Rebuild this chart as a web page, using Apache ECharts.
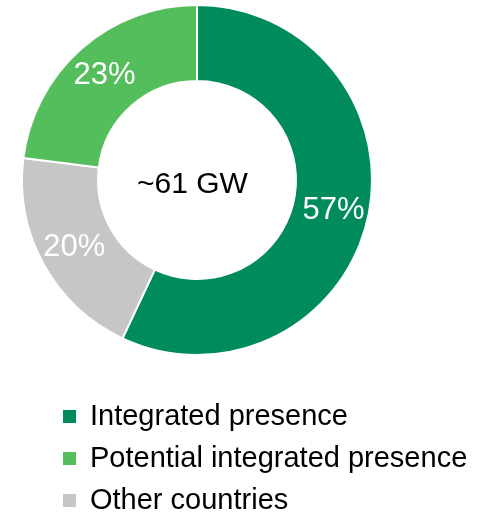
<!DOCTYPE html>
<html style="height: 100%">
<head>
    <meta charset="utf-8">
    <script type="text/javascript" src="https://cdn.jsdelivr.net/npm/echarts@6.0.0/dist/echarts.min.js"></script>
</head>
<body style="height: 100%; margin: 0; background-color: #fff;">
    <div id="main" style="width: 486px; height: 512px;"></div>
</body>
</html>
<script>
// slice order is clockwise from 12 o'clock
var categories = ['Integrated presence', 'Other countries', 'Potential integrated presence'];
var shares = [57, 20, 23];
var colors = ['#008C5A', '#C6C6C6', '#55BE5C'];
var legendOrder = ['Integrated presence', 'Potential integrated presence', 'Other countries'];
var centerText = '~61 GW';

var chartDom = document.getElementById('main');
var myChart = echarts.init(chartDom);
var option;

option = {
    animation: false,
    textStyle: { fontFamily: 'Liberation Sans, Arial, sans-serif' },
    legend: {
        data: legendOrder,
        orient: 'vertical',
        left: 61,
        top: 402,
        height: 125,
        padding: 0,
        icon: 'rect',
        itemWidth: 15,
        itemHeight: 15,
        itemGap: 13,
        textStyle: {
            fontSize: 29,
            color: '#000',
            padding: [0, 0, 0, 8]
        }
    },
    graphic: [{
        type: 'text',
        left: 137,
        top: 170,
        style: {
            text: centerText,
            fontSize: 30,
            fill: '#000',
            fontFamily: 'Liberation Sans, Arial, sans-serif'
        }
    }],
    series: [
        {
            type: 'pie',
            center: [197, 180],
            radius: [99, 175],
            startAngle: 90,
            clockwise: true,
            avoidLabelOverlap: false,
            itemStyle: {
                borderColor: '#fff',
                borderWidth: 2
            },
            label: {
                show: true,
                position: 'inside',
                color: '#fff',
                fontSize: 31,
                formatter: '{c}%'
            },
            labelLine: { show: false },
            emphasis: { disabled: true },
            data: categories.map(function (name, i) {
                return { name: name, value: shares[i], itemStyle: { color: colors[i] } };
            })
        }
    ]
};

option && myChart.setOption(option);
</script>
